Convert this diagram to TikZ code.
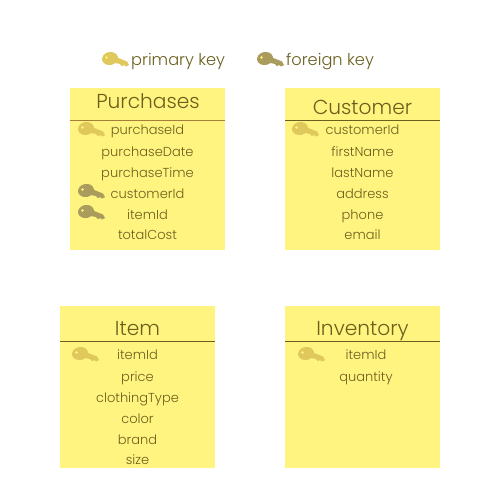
\documentclass[tikz,border=0pt]{standalone}
\usepackage{fontspec}
\setmainfont{Poppins Light}
\definecolor{boxfill}{HTML}{FFF47F}
\definecolor{ink}{HTML}{6B5F1E}
\definecolor{inkwarm}{HTML}{A5803A}
\definecolor{pk}{HTML}{E0C95C}
\definecolor{fk}{HTML}{A99C5C}
\tikzset{
  x=1pt,y=-1pt,
  tablebox/.style={fill=boxfill,draw=none,anchor=north west,inner sep=0pt,outer sep=0pt},
  tabletitle/.style={text=ink,font=\fontsize{20.2}{21}\selectfont,inner sep=0pt,anchor=base},
  field/.style={text=ink,font=\fontsize{13}{14}\selectfont,inner sep=0pt,anchor=base},
  legendtext/.style={text=ink,font=\fontsize{16.2}{17}\selectfont,inner sep=0pt,anchor=base west},
  rule/.style={draw=ink,line width=0.9pt},
  keyicon/.pic={
    \fill[pic actions] (8,0.5) ellipse[x radius=8,y radius=6.5,rotate=12];
    \fill[pic actions] (10,-2.5) -- (25,3.5) -- (27,7) -- (24,8.5) -- (22,7) -- (20,8.2) -- (18,6) -- (8,4) -- cycle;
    \fill[boxfill] (4.5,-0.5) circle[radius=1.3];
  }
}
\begin{document}
\begin{tikzpicture}
\useasboundingbox (0,0) rectangle (500,500);
\fill[white] (0,0) rectangle (500,500);
% legend
\pic[fill=pk] at (102,58) {keyicon};
\node[legendtext] (lp) at (131,66) {primary key};
\pic[fill=fk] at (257,58) {keyicon};
\node[legendtext] (lf) at (286,66) {foreign key};
% Purchases
\node[tablebox,minimum width=155pt,minimum height=162pt] (purchases) at (70,88) {};
\node[tabletitle] (purchasesT) at (148,109) {Purchases};
\draw[rule,draw=inkwarm] (70,120) -- (225,120);
\pic[fill=pk] at (78,128) {keyicon};
\node[field] (p1) at (147.5,134) {purchaseId};
\node[field] (p2) at (147.5,156) {purchaseDate};
\node[field] (p3) at (147.5,177) {purchaseTime};
\pic[fill=fk] at (78,190) {keyicon};
\node[field] (p4) at (147.5,198) {customerId};
\pic[fill=fk] at (78,211) {keyicon};
\node[field] (p5) at (147.5,219) {itemId};
\node[field] (p6) at (147.5,239) {totalCost};
% Customer
\node[tablebox,minimum width=155pt,minimum height=162pt] (customer) at (285,88) {};
\node[tabletitle] (customerT) at (362.5,114) {Customer};
\draw[rule] (285,120) -- (440,120);
\pic[fill=pk] at (292,128) {keyicon};
\node[field] (c1) at (362.5,134) {customerId};
\node[field] (c2) at (362.5,156) {firstName};
\node[field] (c3) at (362.5,177) {lastName};
\node[field] (c4) at (362.5,198) {address};
\node[field] (c5) at (362.5,219) {phone};
\node[field] (c6) at (362.5,239) {email};
% Item
\node[tablebox,minimum width=155pt,minimum height=162pt] (item) at (60,306) {};
\node[tabletitle] (itemT) at (137.5,335) {Item};
\draw[rule] (60,341) -- (215,341);
\pic[fill=pk] at (72,353) {keyicon};
\node[field] (i1) at (137.5,359) {itemId};
\node[field] (i2) at (137.5,381) {price};
\node[field] (i3) at (137.5,402) {clothingType};
\node[field] (i4) at (137.5,423) {color};
\node[field] (i5) at (137.5,444) {brand};
\node[field] (i6) at (137.5,464) {size};
% Inventory
\node[tablebox,minimum width=155pt,minimum height=162pt] (inventory) at (285,306) {};
\node[tabletitle] (inventoryT) at (362.5,335) {Inventory};
\draw[rule] (285,341) -- (440,341);
\pic[fill=pk] at (298,353) {keyicon};
\node[field] (v1) at (366,359) {itemId};
\node[field] (v2) at (366,381) {quantity};
\end{tikzpicture}
\end{document}
